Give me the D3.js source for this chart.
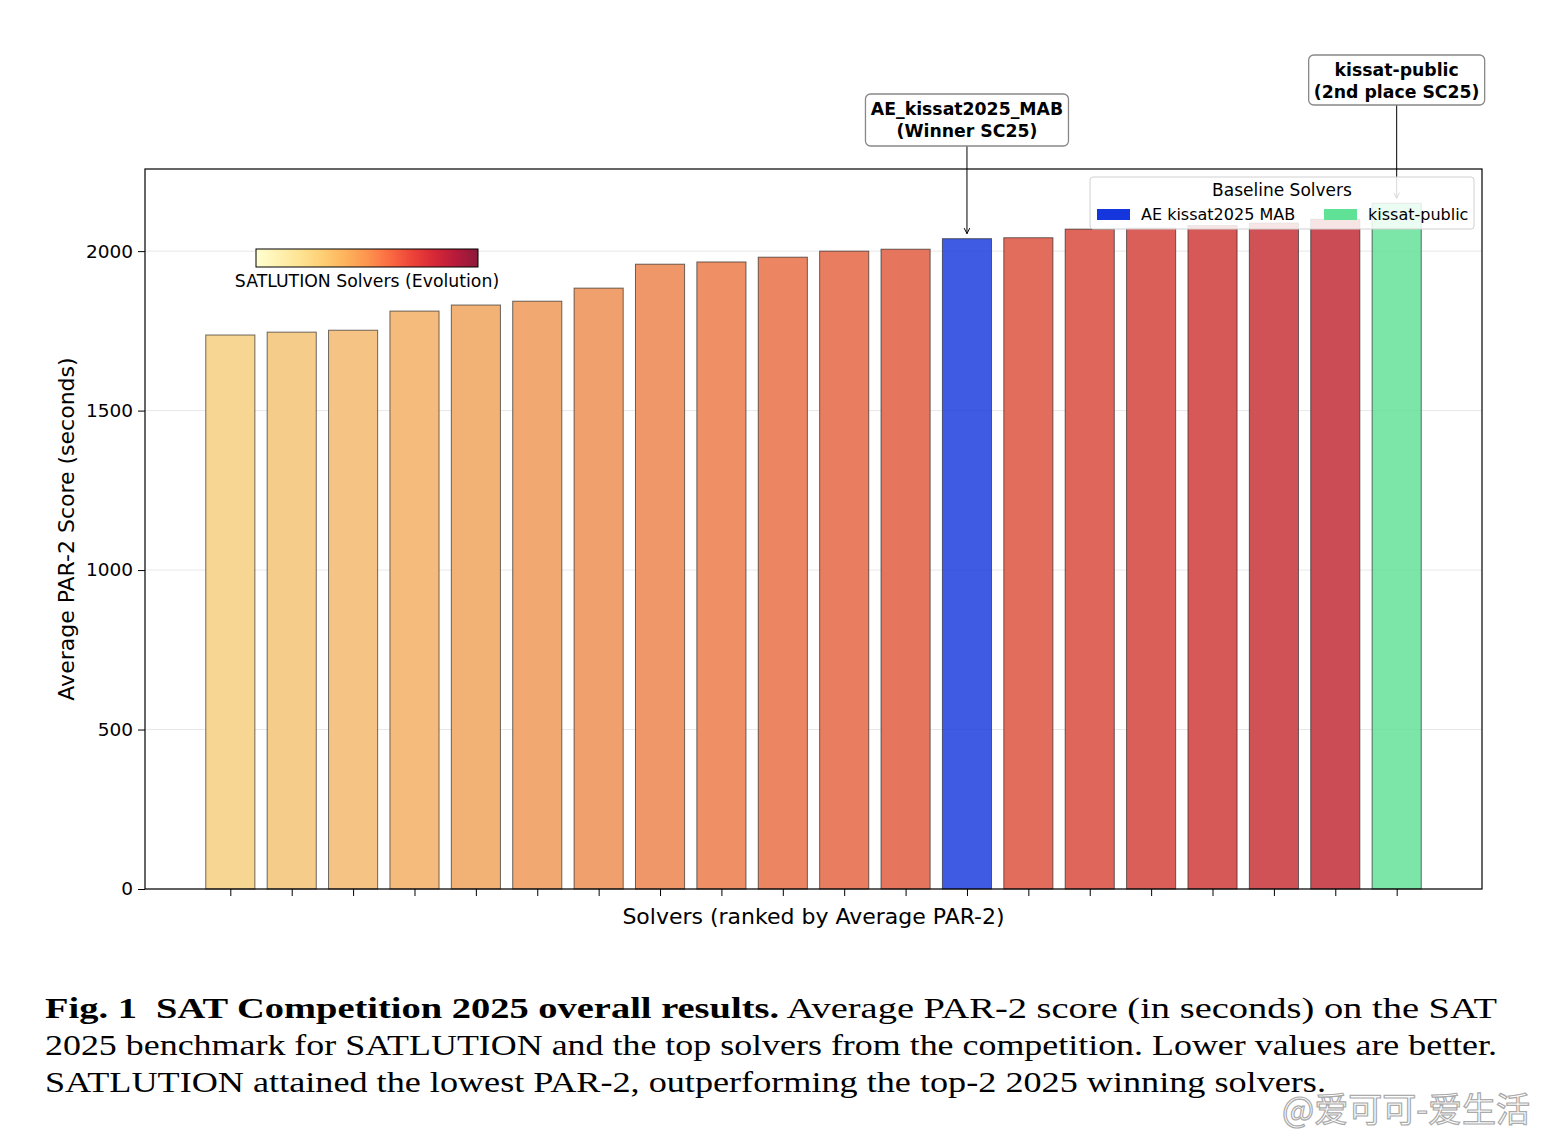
<!DOCTYPE html>
<html lang="en">
<head>
<meta charset="UTF-8">
<title>SAT Competition 2025 overall results</title>
<script src="https://cdn.jsdelivr.net/npm/d3@7"></script>
<style>
  body { margin: 0; background: #fff; }
  text { font-family: "DejaVu Sans", sans-serif; }
</style>
</head>
<body>
<script>
// solvers ranked by average PAR-2 (seconds)
var par2 = [1737, 1746, 1752, 1812, 1831, 1843, 1884, 1959, 1966, 1981,
            2000, 2006, 2039, 2042, 2069, 2072, 2080, 2088, 2100, 2150];
var kinds = ["sat", "sat", "sat", "sat", "sat", "sat", "sat", "sat", "sat", "sat",
             "sat", "sat", "ae", "sat", "sat", "sat", "sat", "sat", "sat", "kissat"];
var yTicks = [0, 500, 1000, 1500, 2000];
var baseline = [
  {kind: "ae", label: "AE kissat2025 MAB", note: ["AE_kissat2025_MAB", "(Winner SC25)"]},
  {kind: "kissat", label: "kissat-public", note: ["kissat-public", "(2nd place SC25)"]}
];
var caption = [
  [["Fig. 1\u00a0\u00a0SAT Competition 2025 overall results.", true], [" Average PAR-2 score (in seconds) on the SAT", false]],
  [["2025 benchmark for SATLUTION and the top solvers from the competition. Lower values are better.", false]],
  [["SATLUTION attained the lowest PAR-2, outperforming the top-2 2025 winning solvers.", false]]
];

var W = 1544, H = 1146;
var svg = d3.select("body").append("svg").attr("width", W).attr("height", H);

var pL = 145, pR = 1482, pT = 169, pB = 889;
var n = par2.length;
var x = d3.scaleLinear().domain([-0.4 - 0.99, n - 0.6 + 0.99]).range([pL, pR]);
var y = d3.scaleLinear().domain([0, d3.max(par2) * 1.05]).range([pB, pT]);

var satRamp = d3.interpolateRgbBasis(["#f7d593", "#f2b072", "#ee8a62", "#e2665a", "#cb4c55"]);
var satCount = kinds.filter(function(k) { return k == "sat"; }).length;
var baseColor = {ae: "#1536dd", kissat: "#5fe196"};

// grid
svg.append("g").selectAll("line").data(yTicks).enter().append("line")
  .attr("x1", pL).attr("x2", pR)
  .attr("y1", function(d) { return y(d); }).attr("y2", function(d) { return y(d); })
  .attr("stroke", "#b0b0b0").attr("stroke-opacity", 0.3).attr("stroke-width", 1);

// bars
var satIdx = 0;
var barData = par2.map(function(v, i) {
  var c;
  if (kinds[i] == "sat") { c = satRamp(satIdx / (satCount - 1)); satIdx++; }
  else c = baseColor[kinds[i]];
  return {v: v, i: i, kind: kinds[i], color: c};
});

svg.append("g").selectAll("rect").data(barData).enter().append("rect")
  .attr("x", function(d) { return x(d.i - 0.4); })
  .attr("width", x(0.4) - x(-0.4))
  .attr("y", function(d) { return y(d.v); })
  .attr("height", function(d) { return y(0) - y(d.v); })
  .attr("fill", function(d) { return d.color; })
  .attr("fill-opacity", function(d) { return d.kind == "sat" ? 1 : 0.82; })
  .attr("stroke", "#222").attr("stroke-opacity", 0.65).attr("stroke-width", 1);

// axes
svg.append("rect").attr("x", pL).attr("y", pT)
  .attr("width", pR - pL).attr("height", pB - pT)
  .attr("fill", "none").attr("stroke", "#000").attr("stroke-width", 1.2);

var yAxis = svg.append("g").attr("transform", "translate(" + pL + ",0)")
  .call(d3.axisLeft(y).tickValues(yTicks).tickSize(7).tickPadding(5).tickFormat(d3.format("d")));
yAxis.select(".domain").remove();
yAxis.selectAll("text").attr("font-size", 18.5).attr("fill", "#000")
  .style("font-family", "'DejaVu Sans', sans-serif");

var xAxis = svg.append("g").attr("transform", "translate(0," + pB + ")")
  .call(d3.axisBottom(x).tickValues(d3.range(n)).tickSize(7).tickFormat(""));
xAxis.select(".domain").remove();

svg.append("text").attr("transform", "translate(74," + ((pT + pB) / 2) + ") rotate(-90)")
  .attr("text-anchor", "middle").attr("font-size", 22).text("Average PAR-2 Score (seconds)");
svg.append("text").attr("x", (pL + pR) / 2).attr("y", 924)
  .attr("text-anchor", "middle").attr("font-size", 22).text("Solvers (ranked by Average PAR-2)");

// colorbar
var defs = svg.append("defs");
var grad = defs.append("linearGradient").attr("id", "ylorrd");
d3.range(0, 1.0001, 0.1).forEach(function(t) {
  grad.append("stop").attr("offset", t).attr("stop-color", d3.interpolateYlOrRd(t));
});
svg.append("rect").attr("x", 256).attr("y", 249).attr("width", 222).attr("height", 18)
  .attr("fill", "url(#ylorrd)").attr("fill-opacity", 0.9).attr("stroke", "#000").attr("stroke-width", 1);
svg.append("text").attr("x", 367).attr("y", 287).attr("text-anchor", "middle")
  .attr("font-size", 17.3).text("SATLUTION Solvers (Evolution)");

// annotations
var boxes = [
  {idx: kinds.indexOf("ae"), y0: 94, w: 203, h: 52},
  {idx: kinds.indexOf("kissat"), y0: 55, w: 176, h: 50}
];
defs.append("marker").attr("id", "arr").attr("viewBox", "0 0 10 10")
  .attr("refX", 9).attr("refY", 5).attr("markerWidth", 7).attr("markerHeight", 7)
  .attr("orient", "auto")
  .append("path").attr("d", "M1,1 L9,5 L1,9").attr("fill", "none").attr("stroke", "#000").attr("stroke-width", 1.4);

boxes.forEach(function(b, k) {
  var bx = x(b.idx);
  svg.append("line").attr("x1", bx).attr("x2", bx)
    .attr("y1", b.y0 + b.h).attr("y2", y(par2[b.idx]) - 5)
    .attr("stroke", "#000").attr("stroke-width", 1).attr("marker-end", "url(#arr)");
  svg.append("rect").attr("x", bx - b.w / 2).attr("y", b.y0).attr("width", b.w).attr("height", b.h)
    .attr("rx", 5).attr("fill", "#fff").attr("stroke", "#888").attr("stroke-width", 1.3);
  baseline[k].note.forEach(function(s, j) {
    svg.append("text").attr("x", bx).attr("y", b.y0 + 21 + j * 22)
      .attr("text-anchor", "middle").attr("font-size", 17.3).attr("font-weight", "bold").text(s);
  });
});

// legend
var lg = svg.append("g").attr("transform", "translate(1090,177)");
lg.append("rect").attr("width", 384).attr("height", 52).attr("rx", 3)
  .attr("fill", "#fff").attr("fill-opacity", 0.85).attr("stroke", "#d0d0d0");
lg.append("text").attr("x", 192).attr("y", 19).attr("text-anchor", "middle")
  .attr("font-size", 17).text("Baseline Solvers");
var lx = [7, 234];
baseline.forEach(function(b, k) {
  lg.append("rect").attr("x", lx[k]).attr("y", 32).attr("width", 33).attr("height", 11)
    .attr("fill", baseColor[b.kind]);
  lg.append("text").attr("x", lx[k] + 44).attr("y", 43).attr("font-size", 16).text(b.label);
});

// caption
caption.forEach(function(line, i) {
  var t = svg.append("text").attr("x", 45).attr("y", 1018 + i * 37)
    .attr("font-size", 29)
    .attr("textLength", i == 2 ? 1281 : 1452).attr("lengthAdjust", "spacingAndGlyphs")
    .style("font-family", "'Liberation Serif', serif");
  line.forEach(function(seg) {
    t.append("tspan").attr("font-weight", seg[1] ? "bold" : "normal").text(seg[0]);
  });
});

// watermark
svg.append("text").attr("x", 1530).attr("y", 1122).attr("text-anchor", "end")
  .attr("font-size", 34)
  .style("font-family", "'Noto Sans CJK SC', sans-serif")
  .attr("fill", "#fff").attr("fill-opacity", 0.7).attr("stroke", "#aaa").attr("stroke-width", 1.2)
  .text("@爱可可-爱生活");
</script>
</body>
</html>
